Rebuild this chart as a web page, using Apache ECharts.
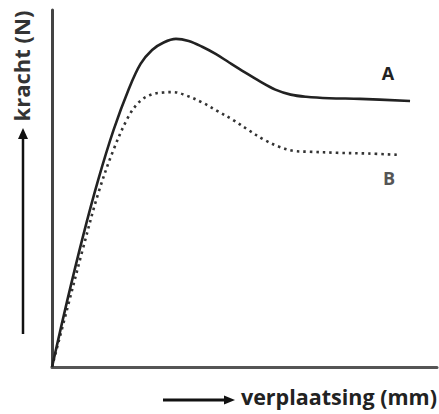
<!DOCTYPE html>
<html>
<head>
<meta charset="utf-8">
<script src="https://cdn.jsdelivr.net/npm/echarts@6/dist/echarts.min.js"></script>
<style>html,body{margin:0;padding:0;background:#fff}#c{width:439px;height:414px}</style>
</head>
<body>
<div id="c"></div>
<script>
// displacement (arbitrary units) and force (arbitrary units)
const curveA_x = [0, 4, 8, 12, 16, 20, 23, 26, 29, 32.2, 35.5, 39, 42.5, 46, 50, 54, 58, 62, 66, 72, 80, 93];
const curveA_y = [0, 18.8, 36.4, 52.4, 66.4, 78.0, 84.9, 88.8, 90.9, 91.9, 91.3, 89.7, 87.7, 85.3, 82.6, 80.0, 77.7, 76.3, 75.7, 75.3, 75.1, 74.5];
const curveB_x = [0, 4, 8, 12, 16, 20, 23, 26, 29, 31.5, 35, 39, 43, 47, 51, 55, 59, 63, 67, 74, 82, 90.4];
const curveB_y = [0, 16.5, 33.0, 48.6, 60.9, 70.4, 74.6, 76.4, 76.9, 77.0, 76.0, 74.1, 71.7, 69.2, 66.4, 63.7, 61.7, 60.5, 60.3, 60.0, 59.8, 59.4];
const seriesNames = ['A', 'B'];
const xTitle = 'verplaatsing (mm)';
const yTitle = 'kracht (N)';

const zip = (xs, ys) => xs.map((x, i) => [x, ys[i]]);

const chart = echarts.init(document.getElementById('c'), null, {renderer: 'svg'});
chart.setOption({
  animation: false,
  backgroundColor: '#fff',
  grid: {left: 52, right: 2, top: 10, bottom: 47},
  xAxis: {
    type: 'value', min: 0, max: 100,
    axisLine: {show: true, lineStyle: {color: '#555', width: 3}},
    axisTick: {show: false}, axisLabel: {show: false}, splitLine: {show: false}
  },
  yAxis: {
    type: 'value', min: 0, max: 100,
    axisLine: {show: true, lineStyle: {color: '#444', width: 3}},
    axisTick: {show: false}, axisLabel: {show: false}, splitLine: {show: false}
  },
  series: [
    {
      name: seriesNames[0], type: 'line', data: zip(curveA_x, curveA_y),
      smooth: 0.35, showSymbol: false, z: 3,
      lineStyle: {color: '#222', width: 2.6}
    },
    {
      name: seriesNames[1], type: 'line', data: zip(curveB_x, curveB_y),
      smooth: 0.35, showSymbol: false, z: 2,
      lineStyle: {color: '#333', width: 2.6, type: [2.5, 4], cap: 'butt'}
    }
  ],
  graphic: [
    {type: 'text', x: 388, y: 73, style: {text: seriesNames[0], font: 'bold 18px "Open Sans"', fill: '#222', align: 'center', verticalAlign: 'middle'}},
    {type: 'text', x: 389, y: 178, style: {text: seriesNames[1], font: 'bold 18px "Open Sans"', fill: '#555', align: 'center', verticalAlign: 'middle'}},
    {type: 'text', x: 21, y: 66, rotation: Math.PI / 2, style: {text: yTitle, font: 'bold 22px "Open Sans"', fill: '#333', align: 'center', verticalAlign: 'middle'}},
    {type: 'line', shape: {x1: 23, y1: 334, x2: 23, y2: 136}, style: {stroke: '#111', lineWidth: 2.5}},
    {type: 'polygon', shape: {points: [[23, 128], [18, 139], [28, 139]]}, style: {fill: '#111'}},
    {type: 'text', x: 437, y: 396, style: {text: xTitle, font: 'bold 21.5px "Open Sans"', fill: '#222', align: 'right', verticalAlign: 'middle'}},
    {type: 'line', shape: {x1: 163, y1: 400, x2: 226, y2: 400}, style: {stroke: '#111', lineWidth: 3}},
    {type: 'polygon', shape: {points: [[235, 400], [224, 395.5], [224, 404.5]]}, style: {fill: '#111'}}
  ]
});
</script>
</body>
</html>
